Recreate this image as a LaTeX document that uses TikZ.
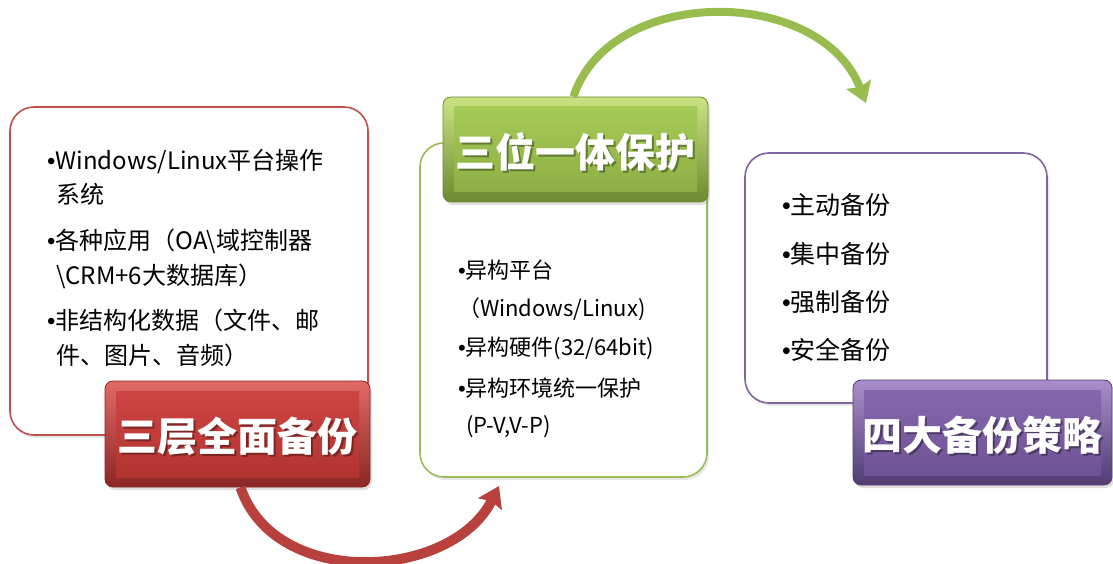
\documentclass[tikz,border=0pt]{standalone}
\usepackage{fontspec}
\setmainfont{Noto Sans CJK SC}
\newfontfamily\bulfont{Liberation Sans}
\newcommand{\bul}{{\bulfont\char"2022}}
\usetikzlibrary{arrows.meta,shadows,calc}
\definecolor{cRed}{HTML}{C0504D}
\definecolor{cGreen}{HTML}{9BBB59}
\definecolor{cPurple}{HTML}{8064A2}
\definecolor{rLight}{HTML}{E06A66}\definecolor{rTop}{HTML}{CD4542}\definecolor{rBot}{HTML}{B23431}\definecolor{rDark}{HTML}{8A2725}
\definecolor{gLight}{HTML}{CBE383}\definecolor{gTop}{HTML}{A6CA56}\definecolor{gBot}{HTML}{8DAE45}\definecolor{gDark}{HTML}{6C8A30}
\definecolor{pLight}{HTML}{A98ECC}\definecolor{pTop}{HTML}{8667AE}\definecolor{pBot}{HTML}{6E5394}\definecolor{pDark}{HTML}{523C72}
\definecolor{arRed}{HTML}{B8403D}
\definecolor{arGreen}{HTML}{98BD4E}
\tikzset{
  card/.style={draw=#1, line width=1.6pt, rounded corners=24pt, fill=white, inner sep=0pt,
    drop shadow={opacity=0.18, shadow xshift=2pt, shadow yshift=-3pt}},
  btnouter/.style n args={2}{rounded corners=8pt, inner sep=0pt, top color=#1, bottom color=#2, draw=#2, line width=0.8pt,
    drop shadow={opacity=0.25, shadow xshift=2pt, shadow yshift=-3pt}},
  btnface/.style n args={2}{inner sep=0pt, top color=#1, bottom color=#2},
  btntext/.style={text=white, font=\bfseries\fontsize{40}{44}\selectfont, inner sep=0pt},
  btnshadow/.style={text=black, opacity=0.35, font=\bfseries\fontsize{40}{44}\selectfont, inner sep=0pt},
  txt/.style={anchor=west, inner sep=0pt, text height=17pt, text depth=4pt, font=\fontsize{#1}{#1}\selectfont},
  txt/.default=24,
  bigarrow/.style={line width=#1, -{Stealth[length=20pt,width=26pt,inset=3pt]}},
}
\begin{document}
\begin{tikzpicture}[x=1pt,y=-1pt]
\useasboundingbox (0,0) rectangle (1113,564);

% ---------- left card ----------
\node[card=cRed, minimum width=358pt, minimum height=328pt] (cardL) at (189,271) {};
\node[txt] (l1) at (47,163) {\bul Windows/Linux平台操作};
\node[txt] (l2) at (56,197) {系统};
\node[txt] (l3) at (47,243) {\bul 各种应用（OA\textbackslash 域控制器};
\node[txt] (l4) at (56,278) {\textbackslash CRM+6大数据库）};
\node[txt] (l5) at (47,323) {\bul 非结构化数据（文件、邮};
\node[txt] (l6) at (56,358) {件、图片、音频）};

% red button
\node[btnouter={rLight}{rDark}, minimum width=265pt, minimum height=106pt] (btnR) at (237.5,434) {};
\node[btnface={rTop}{rBot}, minimum width=243pt, minimum height=86pt] (btnRf) at (237.5,434) {};
\node[btnshadow] (btnRs) at (239.5,438.5) {三层全面备份};
\node[btntext] (btnRt) at (237.5,436.5) {三层全面备份};

% ---------- middle card ----------
\node[card=cGreen, minimum width=287pt, minimum height=334pt] (cardM) at (563.5,310) {};
\node[txt=22] (m1) at (458,272) {\bul 异构平台};
\node[txt=22] (m2) at (458,310) {（Windows/Linux)};
\node[txt=22] (m3) at (458,349) {\bul 异构硬件(32/64bit)};
\node[txt=22] (m4) at (458,390) {\bul 异构环境统一保护};
\node[txt=22] (m5) at (466,427) {(P-V,V-P)};

% green button
\node[btnouter={gLight}{gDark}, minimum width=265pt, minimum height=105pt] (btnG) at (575.5,149.5) {};
\node[btnface={gTop}{gBot}, minimum width=243pt, minimum height=85pt] (btnGf) at (575.5,149.5) {};
\node[btnshadow] (btnGs) at (577.5,154) {三位一体保护};
\node[btntext] (btnGt) at (575.5,152) {三位一体保护};

% ---------- right card ----------
\node[card=cPurple, minimum width=302pt, minimum height=250pt] (cardR) at (896,278) {};
\node[txt=25] (r1) at (782,208) {\bul 主动备份};
\node[txt=25] (r2) at (782,257) {\bul 集中备份};
\node[txt=25] (r3) at (782,305) {\bul 强制备份};
\node[txt=25] (r4) at (782,353) {\bul 安全备份};

% purple button
\node[btnouter={pLight}{pDark}, minimum width=259pt, minimum height=105pt] (btnP) at (982.5,432.5) {};
\node[btnface={pTop}{pBot}, minimum width=237pt, minimum height=85pt] (btnPf) at (982.5,432.5) {};
\node[btnshadow] (btnPs) at (984.5,437) {四大备份策略};
\node[btntext] (btnPt) at (982.5,435) {四大备份策略};

% ---------- arrows ----------
\coordinate (redEnd) at (499,486);
\coordinate (greenEnd) at (866,103);
\draw[bigarrow=10pt, draw=arRed] ($(btnR.south)+(3,0)$) .. controls (275,590) and (452,580) .. (redEnd);
\draw[bigarrow=8pt, draw=arGreen] ($(btnG.north)+(-2,0)$) .. controls (610,-15) and (820,-15) .. (greenEnd);
\end{tikzpicture}
\end{document}
